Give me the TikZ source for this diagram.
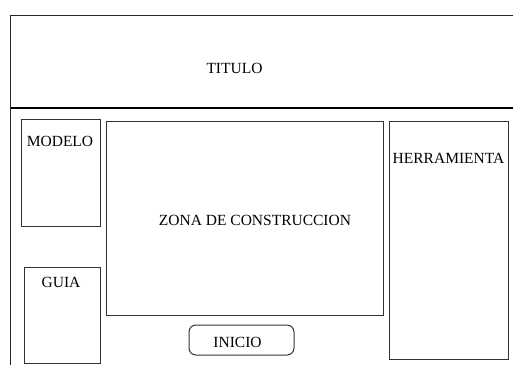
\documentclass[tikz,border=0pt]{standalone}
\usepackage{fontspec}
\setmainfont{Liberation Serif}
\begin{document}
\begin{tikzpicture}[x=1pt,y=-1pt,
  frame/.style={draw=black!85,line width=1pt},
  box/.style={draw=black!80,line width=1pt,rectangle,inner sep=0pt},
  lbl/.style={inner sep=0pt,text=black,font=\fontsize{15.5}{18}\selectfont}]
\useasboundingbox (0,0) rectangle (513,365);
% outer frame
\coordinate (tl) at (10.5,15.5);
\coordinate (tr) at (513,15.5);
\coordinate (bl) at (10.5,365);
\coordinate (hl) at (10.5,108);
\coordinate (hr) at (513,108);
\draw[frame] (tr) -- (tl) -- (bl);
\draw[black,line width=2pt] (hl) -- (hr);
% boxes
\node[box,minimum width=79,minimum height=107] (modelo) at (60.5,172.5) {};
\node[box,minimum width=76,minimum height=96] (guia) at (62,315) {};
\node[box,minimum width=277,minimum height=194] (zona) at (244.5,218) {};
\node[box,minimum width=119,minimum height=238] (herr) at (448.5,240) {};
\node[box,rounded corners=7pt,minimum width=105,minimum height=30] (inicio) at (241.5,340) {};
% labels
\node[lbl] (ttitulo) at (234.5,68) {TITULO};
\node[lbl] (tmodelo) at (60,141.5) {MODELO};
\node[lbl] (tguia) at (61,282) {GUIA};
\node[lbl] (tzona) at (255,220.5) {ZONA DE CONSTRUCCION};
\node[lbl] (therr) at (448.5,158.5) {HERRAMIENTA};
\node[lbl] (tinicio) at (237.5,342.5) {INICIO};
\end{tikzpicture}
\end{document}
